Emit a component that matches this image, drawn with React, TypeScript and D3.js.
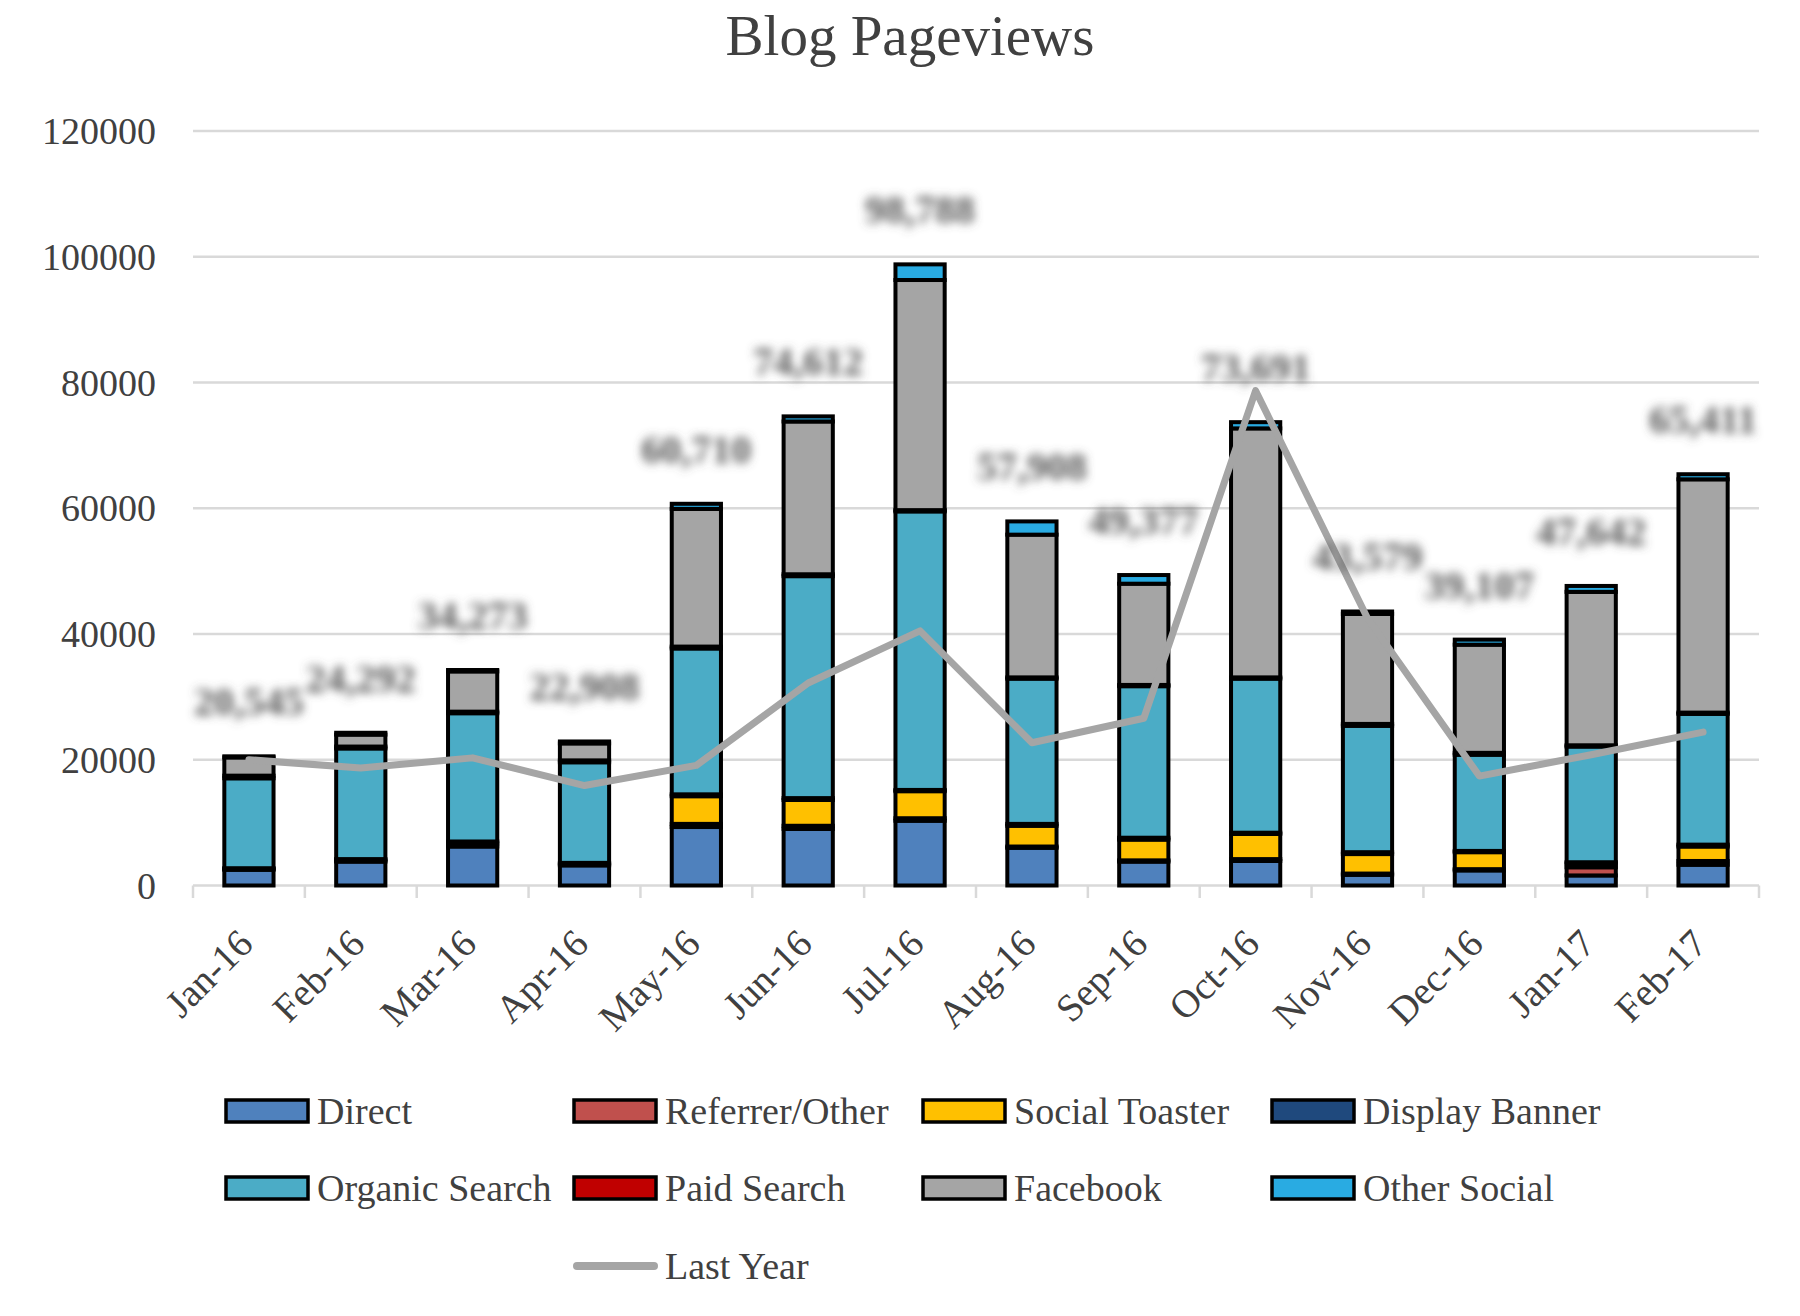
import React from "react";
import * as d3 from "d3";

const months = ["Jan-16", "Feb-16", "Mar-16", "Apr-16", "May-16", "Jun-16", "Jul-16", "Aug-16", "Sep-16", "Oct-16", "Nov-16", "Dec-16", "Jan-17", "Feb-17"];
const direct = [2500, 3800, 6200, 3200, 9300, 9000, 10300, 6000, 3800, 3900, 1700, 2400, 1600, 3300];
const referrerOther = [150, 200, 500, 200, 500, 500, 400, 200, 200, 300, 200, 200, 1300, 600];
const socialToaster = [0, 0, 0, 0, 4400, 4100, 4300, 3300, 3300, 4000, 3100, 2700, 600, 2300];
const displayBanner = [100, 200, 300, 200, 300, 300, 200, 300, 300, 200, 300, 200, 200, 300];
const organicSearch = [14300, 17600, 20400, 16000, 23200, 35300, 44300, 23100, 24100, 24500, 20100, 15300, 18400, 20800];
const paidSearch = [420, 300, 250, 300, 300, 300, 200, 200, 200, 200, 300, 300, 200, 200];
const facebook = [2900, 1900, 6400, 2700, 21900, 24300, 36600, 22700, 16100, 39600, 17500, 17200, 24400, 37100];
const otherSocial = [175, 292, 223, 308, 810, 812, 2488, 2108, 1377, 991, 379, 807, 942, 811];
const lastYear = [20000, 18700, 20300, 15900, 19100, 32200, 40500, 22700, 26600, 78700, 42500, 17400, 20800, 24400];
const yTicks = [0, 20000, 40000, 60000, 80000, 100000, 120000];

const seriesNames = ["Direct", "Referrer/Other", "Social Toaster", "Display Banner", "Organic Search", "Paid Search", "Facebook", "Other Social"];
const seriesValues = [direct, referrerOther, socialToaster, displayBanner, organicSearch, paidSearch, facebook, otherSocial];
const seriesColors = ["#4F81BD", "#C0504D", "#FFC000", "#1F497D", "#4BACC6", "#C00000", "#A5A5A5", "#29ABE2"];
const lineColor = "#A5A5A5";

const W = 1800, H = 1316;
const FONT = "'Liberation Serif', 'Times New Roman', serif";
const TEXT = "#404040";

export default function App() {
  const rows = months.map((m, i) => {
    const r: any = { month: m };
    seriesNames.forEach((s, k) => (r[s] = seriesValues[k][i]));
    return r;
  });
  const stack = d3.stack().keys(seriesNames)(rows as any);
  const totals = months.map((_, i) => d3.sum(seriesValues, (arr) => arr[i]));

  const x = d3.scaleBand().domain(months).range([193, 1759]).padding(0);
  const y = d3.scaleLinear().domain([0, 120000]).range([885.5, 131]);
  const bw = x.bandwidth() * 0.44;
  const cx = (m: string) => (x(m) as number) + x.bandwidth() / 2;

  const line = d3
    .line<number>()
    .x((_, i) => cx(months[i]))
    .y((d) => y(d));

  const fmt = d3.format(",");

  const legendCols = [226, 574, 923, 1272];
  const legendRows = [1111, 1188, 1266];

  return (
    <svg width={W} height={H} style={{ position: "absolute", left: 0, top: 0, background: "#fff" }} fontFamily={FONT}>
      <defs>
        <filter id="blurLbl" x="-20%" y="-50%" width="140%" height="200%">
          <feGaussianBlur stdDeviation="5" />
        </filter>
      </defs>
      <rect width={W} height={H} fill="#fff" />
      <text x={910} y={55} textAnchor="middle" fontSize={57} fill={TEXT}>
        Blog Pageviews
      </text>

      {yTicks.map((t) => (
        <g key={t}>
          <line x1={193} x2={1759} y1={y(t)} y2={y(t)} stroke="#D9D9D9" strokeWidth={2.5} />
          <text x={156} y={y(t) + 13} textAnchor="end" fontSize={38} fill={TEXT}>
            {t}
          </text>
        </g>
      ))}
      {months.map((m) => (
        <line key={m} x1={x(m) as number} x2={x(m) as number} y1={885.5} y2={898} stroke="#D9D9D9" strokeWidth={2.5} />
      ))}
      <line x1={1759} x2={1759} y1={885.5} y2={898} stroke="#D9D9D9" strokeWidth={2.5} />

      {stack.map((layer, k) => (
        <g key={layer.key} fill={seriesColors[k]} stroke="#000" strokeWidth={4}>
          {layer.map((d: any, i: number) => (
            <rect
              key={i}
              x={cx(months[i]) - bw / 2}
              width={bw}
              y={y(d[1])}
              height={Math.max(0, y(d[0]) - y(d[1]))}
            />
          ))}
        </g>
      ))}

      <path d={line(lastYear) as string} fill="none" stroke={lineColor} strokeWidth={7} strokeLinejoin="round" strokeLinecap="round" />

      <g filter="url(#blurLbl)">
        {totals.map((t, i) => (
          <text key={i} x={cx(months[i])} y={y(t) - 41} textAnchor="middle" fontSize={40} fontWeight="bold" fill="#555">
            {fmt(t)}
          </text>
        ))}
      </g>

      {months.map((m) => (
        <text
          key={m}
          transform={`translate(${cx(m) + 6},${946}) rotate(-45)`}
          textAnchor="end"
          fontSize={39}
          fill={TEXT}
        >
          {m}
        </text>
      ))}

      {seriesNames.map((s, k) => {
        const col = k % 4;
        const row = Math.floor(k / 4);
        const lx = legendCols[col];
        const ly = legendRows[row];
        return (
          <g key={s}>
            <rect x={lx} y={ly - 11} width={82} height={22} fill={seriesColors[k]} stroke="#000" strokeWidth={3.5} />
            <text x={lx + 91} y={ly + 13} fontSize={38} fill={TEXT}>
              {s}
            </text>
          </g>
        );
      })}
      <g>
        <line x1={legendCols[1] + 3} x2={legendCols[1] + 80} y1={legendRows[2]} y2={legendRows[2]} stroke={lineColor} strokeWidth={8} strokeLinecap="round" />
        <text x={legendCols[1] + 91} y={legendRows[2] + 13} fontSize={38} fill={TEXT}>
          Last Year
        </text>
      </g>
    </svg>
  );
}
